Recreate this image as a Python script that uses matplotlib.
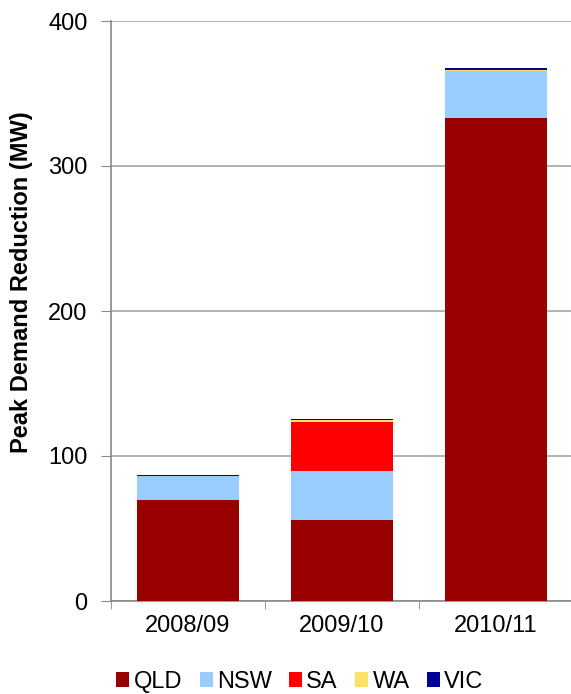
import matplotlib.pyplot as plt
import numpy as np

plt.rcParams['font.family'] = ['Liberation Sans', 'DejaVu Sans']

years = ["2008/09", "2009/10", "2010/11"]
states = ["QLD", "NSW", "SA", "WA", "VIC"]
qld = [69.5, 56.0, 333.0]
nsw = [16.5, 33.7, 32.7]
sa = [0.0, 34.0, 0.0]
wa = [0.0, 1.0, 0.8]
vic = [0.8, 0.8, 1.2]
colors = ["#990000", "#99CCFF", "#FF0000", "#FFE066", "#000099"]

fig = plt.figure(figsize=(5.71, 6.94), dpi=100)
ax = fig.add_axes([111 / 571, 93 / 694, 462 / 571, 580 / 694])

x = np.arange(len(years))
bottom = np.zeros(len(years))
for name, vals, c in zip(states, [qld, nsw, sa, wa, vic], colors):
    ax.bar(x, vals, 0.66, bottom=bottom, color=c, label=name, zorder=3)
    bottom += np.array(vals)

ax.set_xlim(-0.5, 2.5)
ax.set_ylim(0, 400)
ax.set_yticks([0, 100, 200, 300, 400])
ax.yaxis.grid(True, color="#A6A6A6", linewidth=1.2, zorder=0)
ax.set_xticks(x)
ax.set_xticklabels(years)
ax.set_xticks([-0.5, 0.5, 1.5, 2.5], minor=True)
ax.tick_params(axis="x", which="major", length=0, pad=10, labelsize=17)
ax.tick_params(axis="x", which="minor", length=6, direction="out", color="#888888")
ax.tick_params(axis="y", length=7, direction="out", color="#888888", labelsize=17, pad=10)

for side in ["top", "right"]:
    ax.spines[side].set_visible(False)
for side in ["left", "bottom"]:
    ax.spines[side].set_color("#888888")
    ax.spines[side].set_linewidth(1.2)

ax.set_ylabel("Peak Demand Reduction (MW)", fontsize=17, fontweight="bold")
ax.yaxis.set_label_coords(-78 / 462, 0.55)

fig.legend(loc="lower center", bbox_to_anchor=(300 / 571, -0.022), ncol=5, frameon=False,
           fontsize=17, handlelength=0.55, handleheight=0.55, handletextpad=0.17,
           columnspacing=0.75, borderpad=0.2)

fig.savefig("out.png", dpi=100)
